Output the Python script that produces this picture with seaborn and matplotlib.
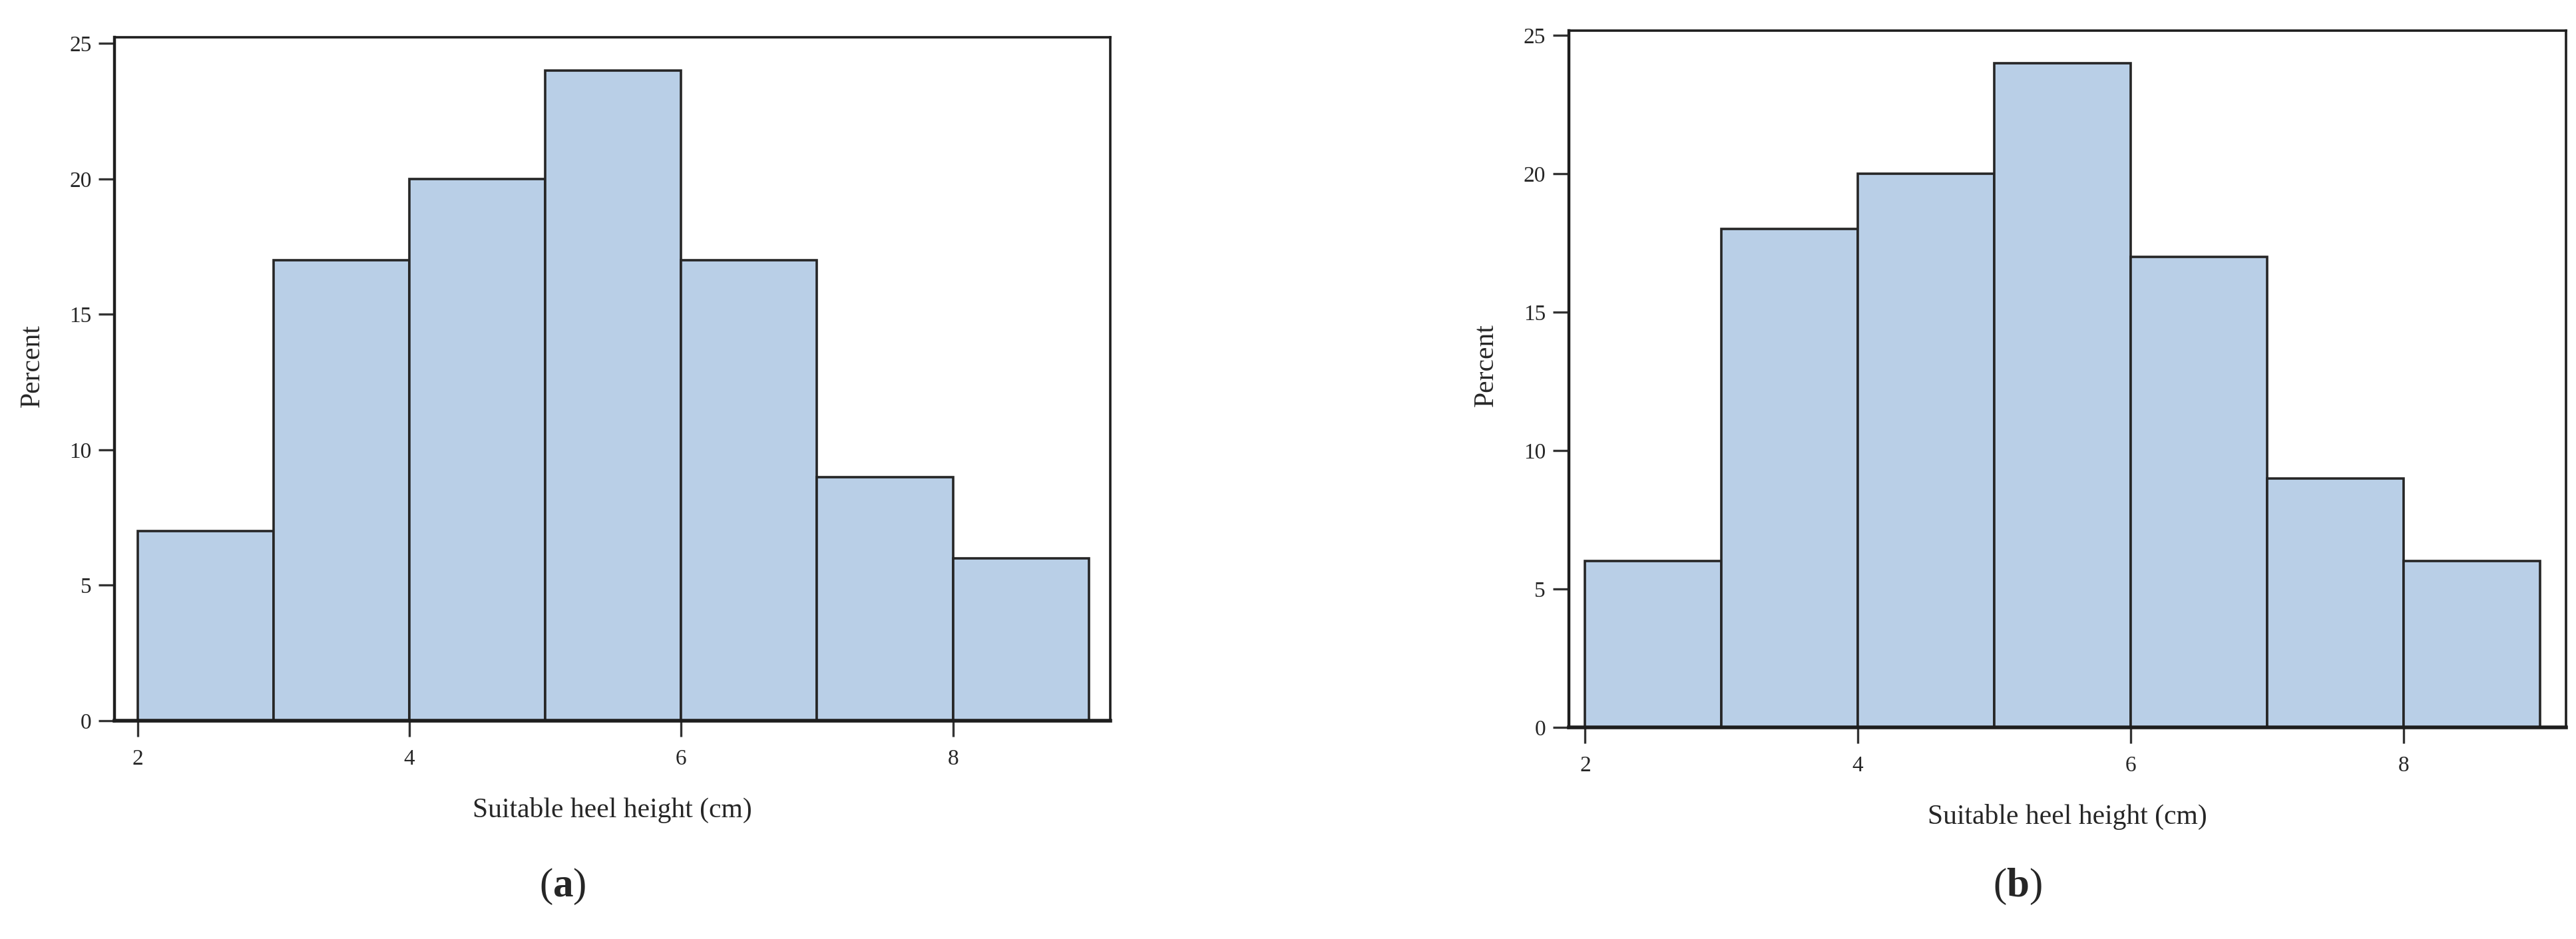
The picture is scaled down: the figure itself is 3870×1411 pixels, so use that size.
import numpy as np
import pandas as pd
import matplotlib
matplotlib.use("Agg")
import matplotlib.pyplot as plt
import seaborn as sns

# bin edges / centres for heel height (cm)
bin_edges = [2, 3, 4, 5, 6, 7, 8, 9]
bin_centres = [2.5, 3.5, 4.5, 5.5, 6.5, 7.5, 8.5]

# percent per bin, panel (a) and (b)
pct_a = [7, 17, 20, 24, 17, 9, 6]
pct_b = [6, 18, 20, 24, 17, 9, 6]

x_ticks = [2, 4, 6, 8]
y_ticks = [0, 5, 10, 15, 20, 25]
panel_tags = ["a", "b"]

sns.set_theme(style="ticks")
plt.rcParams["font.family"] = ["Liberation Serif", "DejaVu Serif"]
plt.rcParams["mathtext.fontset"] = "custom"
plt.rcParams["mathtext.rm"] = "Liberation Serif"
plt.rcParams["mathtext.bf"] = "Liberation Serif:bold"

fig = plt.figure(figsize=(38.7, 14.11), dpi=100)

# axes boxes in figure fractions
boxes = [
    [0.0445, 0.2325, 0.3866, 0.7275],
    [0.6090, 0.2255, 0.3870, 0.7420],
]
xlims = [(1.83, 9.16), (1.88, 9.19)]
ylims = [(0, 25.22), (0, 25.18)]

for box, pct, tag, xl, yl in zip(boxes, [pct_a, pct_b], panel_tags, xlims, ylims):
    ax = fig.add_axes(box)
    df = pd.DataFrame({"height": bin_centres, "percent": pct})
    sns.histplot(
        data=df, x="height", weights="percent", bins=bin_edges, ax=ax,
        color="#b9cfe7", edgecolor="#262626", linewidth=2.6, alpha=1.0,
    )
    ax.set_xlim(*xl)
    ax.set_ylim(*yl)
    ax.set_xticks(x_ticks)
    ax.set_yticks(y_ticks)
    ax.tick_params(axis="both", labelsize=24, length=17, width=2.4,
                   color="#333333")
    ax.tick_params(axis="x", pad=14)
    ax.tick_params(axis="y", pad=8)
    for s in ax.spines.values():
        s.set_visible(True)
        s.set_color("#1e1e1e")
        s.set_linewidth(2.6)
    ax.spines["left"].set_linewidth(3.2)
    ax.spines["bottom"].set_linewidth(4.0)
    ax.set_xlabel("Suitable heel height (cm)", fontsize=30, labelpad=30)
    ax.set_ylabel("Percent", fontsize=30)
    ax.yaxis.set_label_coords(-0.07, 0.52)
    pos = ax.get_position()
    fig.text(pos.x0 + pos.width * 0.45, 0.035, r"($\mathbf{" + tag + "}$)",
             fontsize=44, ha="center", va="bottom")

fig.savefig("out.png", dpi=100, facecolor="white")
